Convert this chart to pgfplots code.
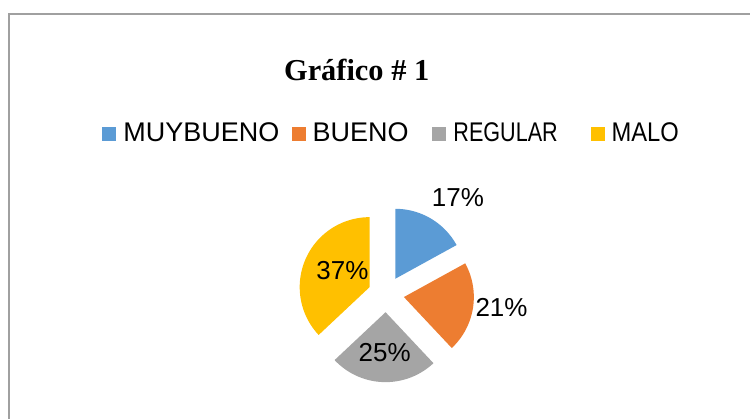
\documentclass[border=0pt]{standalone}
\usepackage{fontspec}
\setmainfont{Liberation Sans}
\newfontfamily\timesfont{Liberation Serif}
\usepackage{graphicx}
\usepackage{pgfplots}
\pgfplotsset{compat=1.18}
\definecolor{cblue}{HTML}{5B9BD5}
\definecolor{corange}{HTML}{ED7D31}
\definecolor{cgray}{HTML}{A5A5A5}
\definecolor{cyellow}{HTML}{FFC000}
\definecolor{frame}{HTML}{A0A0A0}
% #1 cumulative share before the slice, #2 share (%), #3 colour
\newcommand{\slice}[3]{%
  \pgfmathsetmacro\aA{90-3.6*#1}%
  \pgfmathsetmacro\aB{90-3.6*(#1+#2)}%
  \pgfmathsetmacro\aM{(\aA+\aB)/2}%
  \pgfmathsetmacro\cx{386.5+18*cos(\aM)}%
  \pgfmathsetmacro\cy{124.5+18*sin(\aM)}%
  \edef\temp{\noexpand\addplot[fill=#3, draw=none, forget plot, domain=\aB:\aA, samples=90]
     ({\cx+70*cos(x)}, {\cy+70*sin(x)}) -- (axis cs:\cx,\cy) -- cycle;}%
  \temp
}
\pgfplotsset{sq/.style={legend image code/.code={\fill[##1] (0pt,-3.5pt) rectangle (7pt,3.5pt);}}}
\begin{document}
\begin{tikzpicture}
\begin{axis}[
  width=375.5pt, height=209.5pt, scale only axis,
  xmin=0, xmax=751, ymin=0, ymax=419,
  hide axis, clip=false,
  legend columns=4,
  legend style={at={(axis cs:102.5,285)}, anchor=west, draw=none, fill=none,
    inner sep=0pt, outer sep=0pt,
    nodes={inner xsep=0pt, inner ysep=1pt},
    font=\fontsize{13.5}{16}\selectfont,
    /tikz/every odd column/.append style={column sep=3.5pt}},
]
\path (axis cs:0,0) rectangle (axis cs:751,419);
\draw[frame, line width=0.7pt] (axis cs:9,0) -- (axis cs:9,405) -- (axis cs:751,405);

\slice{0}{17}{cblue}
\slice{17}{21}{corange}
\slice{38}{25}{cgray}
\slice{63}{37}{cyellow}

\addlegendimage{sq, fill=cblue, draw=none}
\addlegendentry{\makebox[84.2pt][l]{MUYBUENO}}
\addlegendimage{sq, fill=corange, draw=none}
\addlegendentry{\makebox[60pt][l]{BUENO}}
\addlegendimage{sq, fill=cgray, draw=none}
\addlegendentry{\makebox[68.6pt][l]{\scalebox{0.8}[1]{REGULAR}}}
\addlegendimage{sq, fill=cyellow, draw=none}
\addlegendentry{\scalebox{0.88}[1]{MALO}}

\node[anchor=base, font=\timesfont\bfseries\fontsize{15.2}{18}\selectfont] at (axis cs:357,338.3) {Gráfico \# 1};

\node[anchor=base, font=\fontsize{13}{15}\selectfont] at (axis cs:458.3,212) {17\%};
\node[anchor=base, font=\fontsize{13}{15}\selectfont] at (axis cs:502,102) {21\%};
\node[anchor=base, font=\fontsize{13}{15}\selectfont] at (axis cs:385,57.3) {25\%};
\node[anchor=base, font=\fontsize{13}{15}\selectfont] at (axis cs:342.7,139) {37\%};
\end{axis}
\end{tikzpicture}
\end{document}
